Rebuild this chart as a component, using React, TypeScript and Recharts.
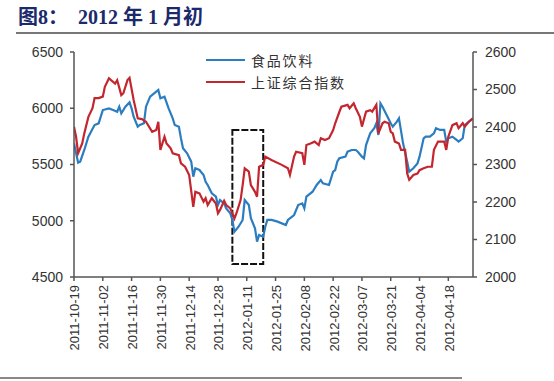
import React from "react";
import {
  LineChart,
  Line,
  XAxis,
  YAxis,
  ReferenceArea,
} from "recharts";

// Days counted from 2011-10-19 (calendar days)
const tickDays = [0, 14, 28, 42, 56, 70, 84, 98, 112, 126, 140, 154, 168, 182];
const tickLabels = [
  "2011-10-19", "2011-11-02", "2011-11-16", "2011-11-30", "2011-12-14", "2011-12-28",
  "2012-01-11", "2012-01-25", "2012-02-08", "2012-02-22", "2012-03-07", "2012-03-21",
  "2012-04-04", "2012-04-18",
];

const leftTicks = [4500, 5000, 5500, 6000, 6500];
const rightTicks = [2000, 2100, 2200, 2300, 2400, 2500, 2600];

// 食品饮料 (left axis)
const foodDays = [
  0, 2, 3, 5, 7, 10, 12, 14, 17, 19, 21, 22, 23, 25, 27, 28, 29, 31, 32, 34, 35, 37, 40, 41, 42,
  44, 46, 48, 49, 51, 52, 53, 55, 57, 58, 59, 61, 63, 64, 65, 67, 69, 70, 71, 73, 74, 76, 77, 78,
  80, 82, 83, 85, 86, 88, 89, 90, 92, 93, 94, 96, 99, 103, 104, 107, 109, 111, 112, 113, 116,
  118, 120, 121, 124, 126, 127, 128, 129, 132, 133, 135, 137, 138, 140, 141, 142, 144, 146, 147,
  148, 149, 150, 152, 154, 155, 157, 158, 160, 162, 163, 165, 167, 168, 170, 171, 173, 175, 176,
  178, 180, 181, 182, 184, 186, 187, 189, 190, 192, 194,
];
const foodValues = [
  5690, 5516, 5525, 5629, 5747, 5851, 5866, 5984, 5999, 5984, 5969, 6014, 5955, 6014, 6053, 5999,
  5925, 5836, 5851, 5866, 6014, 6103, 6147, 6162, 6088, 6103, 5999, 5910, 5851, 5836, 5733, 5644,
  5600, 5525, 5392, 5466, 5451, 5407, 5347, 5318, 5244, 5214, 5140, 5184, 5155, 5110, 5066, 5007,
  4903, 4947, 5007, 5184, 5140, 5022, 4933, 4814, 4873, 4858, 4947, 5007, 5007, 4992, 4962, 5007,
  5051, 5140, 5155, 5110, 5214, 5258, 5318, 5362, 5333, 5318, 5436, 5451, 5525, 5555, 5570, 5614,
  5629, 5629, 5614, 5570, 5555, 5673, 5777, 5822, 5866, 5762, 6044, 6014, 5940, 5866, 5836, 5881,
  5910, 5688, 5525, 5436, 5466, 5510, 5570, 5733, 5747, 5747, 5777, 5822, 5807, 5807, 5703, 5733,
  5747, 5718, 5703, 5733, 5851, 5881, 5910,
];

// 上证综合指数 (right axis)
const sseDays = [
  0, 1, 2, 4, 5, 7, 9, 10, 12, 14, 15, 17, 18, 20, 21, 23, 24, 26, 27, 29, 31, 33, 35, 38, 40,
  41, 42, 44, 45, 47, 48, 51, 52, 54, 56, 58, 59, 61, 63, 64, 65, 67, 69, 70, 71, 73, 74, 76, 78,
  79, 81, 82, 83, 85, 86, 88, 89, 90, 92, 93, 96, 101, 104, 105, 107, 108, 111, 112, 113, 115,
  117, 119, 120, 122, 124, 126, 127, 129, 130, 133, 134, 136, 137, 139, 140, 142, 144, 145, 147,
  148, 150, 151, 153, 154, 155, 156, 158, 159, 161, 162, 163, 165, 167, 168, 170, 172, 174, 175,
  177, 180, 181, 182, 184, 186, 187, 189, 190, 192, 194,
];
const sseValues = [
  2401, 2374, 2330, 2356, 2383, 2427, 2450, 2477, 2477, 2481, 2507, 2530, 2525, 2516, 2525, 2485,
  2490, 2525, 2531, 2472, 2423, 2421, 2414, 2387, 2392, 2414, 2339, 2374, 2356, 2343, 2330, 2325,
  2303, 2294, 2272, 2187, 2227, 2223, 2201, 2210, 2192, 2210, 2196, 2170, 2179, 2203, 2192, 2183,
  2156, 2170, 2205, 2245, 2290, 2281, 2245, 2227, 2214, 2294, 2299, 2321, 2312, 2299, 2290, 2272,
  2321, 2334, 2330, 2299, 2352, 2356, 2361, 2352, 2370, 2365, 2370, 2392, 2410, 2440, 2454, 2459,
  2450, 2463, 2450, 2427, 2401, 2441, 2445, 2441, 2459, 2383, 2410, 2414, 2410, 2387, 2383, 2361,
  2356, 2339, 2339, 2276, 2259, 2272, 2276, 2285, 2290, 2294, 2294, 2339, 2361, 2361, 2339, 2374,
  2405, 2410, 2397, 2410, 2401, 2414, 2423,
];

// highlighted window (early Jan 2012)
const boxDays = [77, 92];
const boxValues = [4616, 5807];

const foodData = foodDays.map((d, i) => ({ day: d, food: foodValues[i] }));
const sseData = sseDays.map((d, i) => ({ day: d, sse: sseValues[i] }));

const BLUE = "#2c7dc0";
const RED = "#c3262e";
const AXIS = "#555";

const labelFor = (v: number) => {
  const idx = tickDays.indexOf(v);
  return idx >= 0 ? tickLabels[idx] : "";
};

const XTick = (props: any) => {
  const { x, y, payload } = props;
  return (
    <g transform={`translate(${x},${y})`}>
      <text
        transform="rotate(-90)"
        textAnchor="end"
        dy="0.42em"
        fontSize={13}
        fontFamily="'Liberation Sans', Arial, sans-serif"
        fill="#333"
      >
        {labelFor(payload.value)}
      </text>
    </g>
  );
};

export default function App() {
  return (
    <div style={{ position: "absolute", left: 0, top: 0, width: 554, height: 381, background: "#fff" }}>
      <div
        style={{
          position: "absolute",
          left: 18,
          top: 4,
          fontSize: 20,
          fontWeight: "bold",
          color: "#1b2a6b",
          fontFamily: "'Liberation Serif', 'Noto Sans CJK SC', serif",
          whiteSpace: "pre",
          lineHeight: "26px",
        }}
      >
        图8：  2012 年 1 月初
      </div>
      <div style={{ position: "absolute", left: 16, top: 32, width: 538, height: 2, background: "#777" }} />
      <div style={{ position: "absolute", left: 0, top: 377, width: 462, height: 1.5, background: "#888" }} />
      <div
        style={{
          position: "absolute",
          left: 206,
          top: 49,
          fontSize: 14,
          letterSpacing: 1.8,
          color: "#333",
          fontFamily: "'Noto Sans CJK SC', sans-serif",
          zIndex: 2,
        }}
      >
        <div style={{ display: "flex", alignItems: "center", height: 22 }}>
          <div style={{ width: 39, height: 2, background: BLUE, marginRight: 6 }} />
          <span>食品饮料</span>
        </div>
        <div style={{ display: "flex", alignItems: "center", height: 22 }}>
          <div style={{ width: 39, height: 2, background: RED, marginRight: 6 }} />
          <span>上证综合指数</span>
        </div>
      </div>
      <LineChart
        width={554}
        height={381}
        margin={{ top: 52, right: 0, bottom: 0, left: 0 }}
        style={{ position: "absolute", left: 0, top: 0 }}
      >
        <XAxis
          dataKey="day"
          type="number"
          domain={[0, 194]}
          ticks={tickDays}
          interval={0}
          height={104}
          tick={<XTick />}
          tickSize={4}
          tickMargin={4}
          stroke={AXIS}
          strokeWidth={1.5}
          allowDataOverflow
        />
        <YAxis
          yAxisId="left"
          orientation="left"
          width={74}
          domain={[4500, 6500]}
          ticks={leftTicks}
          interval={0}
          tickSize={4}
          tickMargin={7}
          stroke={AXIS}
          strokeWidth={1.5}
          tick={{ fontSize: 14, fill: "#333", fontFamily: "'Liberation Sans', Arial, sans-serif" }}
          allowDataOverflow
        />
        <YAxis
          yAxisId="right"
          orientation="right"
          width={81}
          domain={[2000, 2600]}
          ticks={rightTicks}
          interval={0}
          tickSize={4}
          tickMargin={8}
          stroke={AXIS}
          strokeWidth={1.5}
          tick={{ fontSize: 14, fill: "#333", fontFamily: "'Liberation Sans', Arial, sans-serif", textAnchor: "start" }}
          allowDataOverflow
        />
        <Line
          yAxisId="left"
          data={foodData}
          dataKey="food"
          stroke={BLUE}
          strokeWidth={2.2}
          dot={false}
          isAnimationActive={false}
        />
        <Line
          yAxisId="right"
          data={sseData}
          dataKey="sse"
          stroke={RED}
          strokeWidth={2.2}
          dot={false}
          isAnimationActive={false}
        />
        <ReferenceArea
          yAxisId="left"
          x1={boxDays[0]}
          x2={boxDays[1]}
          y1={boxValues[0]}
          y2={boxValues[1]}
          fill="none"
          fillOpacity={0}
          stroke="#111"
          strokeWidth={2}
          strokeDasharray="7 2"
          ifOverflow="visible"
        />
      </LineChart>
    </div>
  );
}
